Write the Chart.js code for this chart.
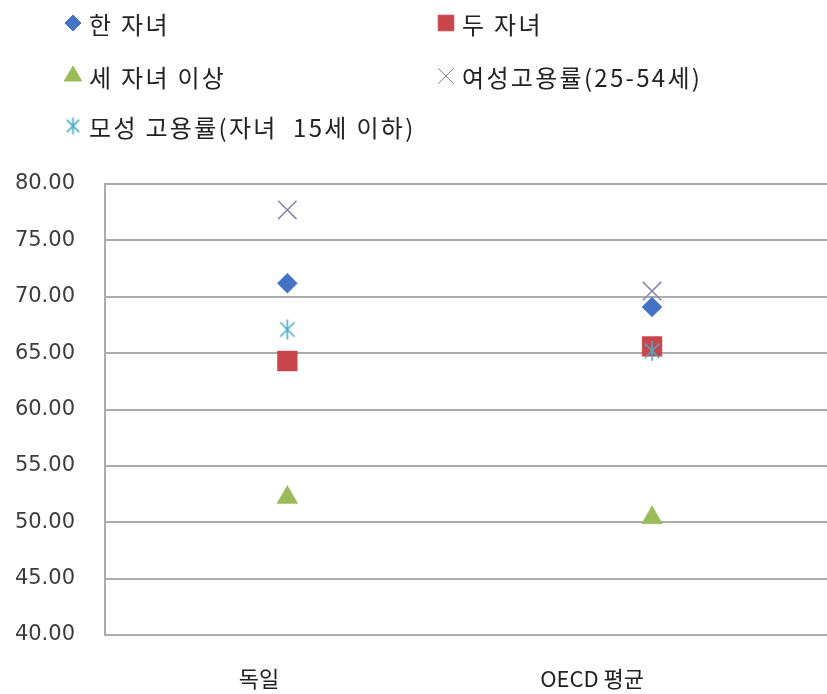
<!DOCTYPE html>
<html><head><meta charset="utf-8">
<script src="https://cdn.jsdelivr.net/npm/chart.js@4/dist/chart.umd.min.js"></script>
<style>
html,body{margin:0;padding:0;background:#fff;overflow:hidden;width:827px;height:694px}
#wrap{position:absolute;left:0;top:0;width:849px;height:694px}
#legend{position:absolute;left:0;top:0;width:827px;height:160px;font-family:"Noto Sans CJK KR","Noto Sans",sans-serif;font-size:24px;color:#222}
.item{position:absolute;display:flex;align-items:center;height:30px;white-space:pre;letter-spacing:2.3px}
.item canvas{width:20px;height:20px;display:block}
.item span{margin-left:6px}
</style>
</head><body>
<div id="wrap"><canvas id="c" width="849" height="694"></canvas></div>
<div id="legend"></div>
<script>
// ---- data ----
const categories = ['독일', 'OECD 평균'];
const oneChild = [71.2, 69.1];
const twoChildren = [64.3, 65.6];
const threePlus = [52.2, 50.4];
const femaleEmployment = [77.7, 70.5];
const motherEmployment = [67.1, 65.2];
const seriesNames = ['한 자녀', '두 자녀', '세 자녀 이상', '여성고용률(25-54세)', '모성 고용률(자녀  15세 이하)'];
const yTicks = [40, 45, 50, 55, 60, 65, 70, 75, 80];

// asterisk marker
function makeAsterisk(color, size) {
  const cv = document.createElement('canvas');
  cv.width = size; cv.height = size;
  const g = cv.getContext('2d');
  const c = size / 2, r = size / 2 - 1;
  g.strokeStyle = color; g.lineWidth = 1.6;
  g.beginPath();
  g.moveTo(c, c - r); g.lineTo(c, c + r);
  const d = r * 0.72;
  g.moveTo(c - d, c - d); g.lineTo(c + d, c + d);
  g.moveTo(c + d, c - d); g.lineTo(c - d, c + d);
  g.stroke();
  return cv;
}
const asterisk = makeAsterisk('#4BACC6', 22);
const asteriskSmall = makeAsterisk('#4BACC6', 19);

const styles = [
  {color:'#4472C4', pointStyle:'rectRot', radius:10, order:2},
  {color:'#C8464B', pointStyle:'rect', radius:14, order:3},
  {color:'#9BBB59', pointStyle:'triangle', radius:12, order:4},
  {color:'#8C86B4', pointStyle:'crossRot', radius:13, order:5, borderWidth:1.6},
  {color:'#4BACC6', pointStyle:asterisk, radius:11, order:1}
];
const seriesData = [oneChild, twoChildren, threePlus, femaleEmployment, motherEmployment];

const datasets = seriesData.map((d, i) => ({
  label: seriesNames[i],
  data: d,
  showLine: false,
  order: styles[i].order,
  pointStyle: styles[i].pointStyle,
  pointRadius: styles[i].radius,
  pointHoverRadius: styles[i].radius,
  pointBackgroundColor: styles[i].color,
  pointBorderColor: styles[i].color,
  pointBorderWidth: styles[i].borderWidth || 0.5,
  backgroundColor: styles[i].color,
  borderColor: styles[i].color
}));

const gridColor = '#ABABAB';
new Chart(document.getElementById('c'), {
  type: 'line',
  data: { labels: categories, datasets },
  options: {
    responsive: false,
    animation: false,
    events: [],
    layout: { padding: { top: 184, right: 7, left: 0, bottom: 0 } },
    plugins: { legend: { display: false }, tooltip: { enabled: false } },
    scales: {
      x: {
        type: 'category',
        offset: true,
        grid: { display: false, drawTicks: false },
        border: { display: true, color: gridColor, width: 2 },
        ticks: { color: '#222', font: { family: '"Noto Sans CJK KR"', size: 22 }, padding: 30, align: 'end', labelOffset: -8 },
        afterFit: s => { s.height = 59; }
      },
      y: {
        min: 40, max: 80,
        afterBuildTicks: s => { s.ticks = yTicks.map(v => ({ value: v })); },
        grid: { color: gridColor, lineWidth: 2, drawTicks: false },
        border: { display: true, color: gridColor, width: 2 },
        ticks: { color: '#3c3c3c', font: { family: '"DejaVu Sans"', size: 21 }, padding: 30, callback: v => Number(v).toFixed(2) },
        afterFit: s => { s.width = 105; }
      }
    }
  }
});

// HTML legend
const legend = document.getElementById('legend');
const colLeft = [63, 436];
const rowTop = [8, 61, 111];
seriesNames.forEach((name, i) => {
  const it = document.createElement('div');
  it.className = 'item';
  it.style.left = colLeft[i % 2] + 'px';
  it.style.top = rowTop[Math.floor(i / 2)] + 'px';
  const cv = document.createElement('canvas');
  cv.width = 20; cv.height = 20;
  const g = cv.getContext('2d');
  const st = styles[i];
  g.fillStyle = st.color; g.strokeStyle = st.color;
  const ps = i === 4 ? asteriskSmall : st.pointStyle;
  Chart.helpers.drawPoint(g, { pointStyle: ps, radius: [8, 11, 10, 11, 9][i], rotation: 0, borderWidth: st.borderWidth || 0.5 }, 10, 10);
  const sp = document.createElement('span');
  sp.textContent = name;
  it.appendChild(cv); it.appendChild(sp);
  legend.appendChild(it);
});
</script>
</body></html>
